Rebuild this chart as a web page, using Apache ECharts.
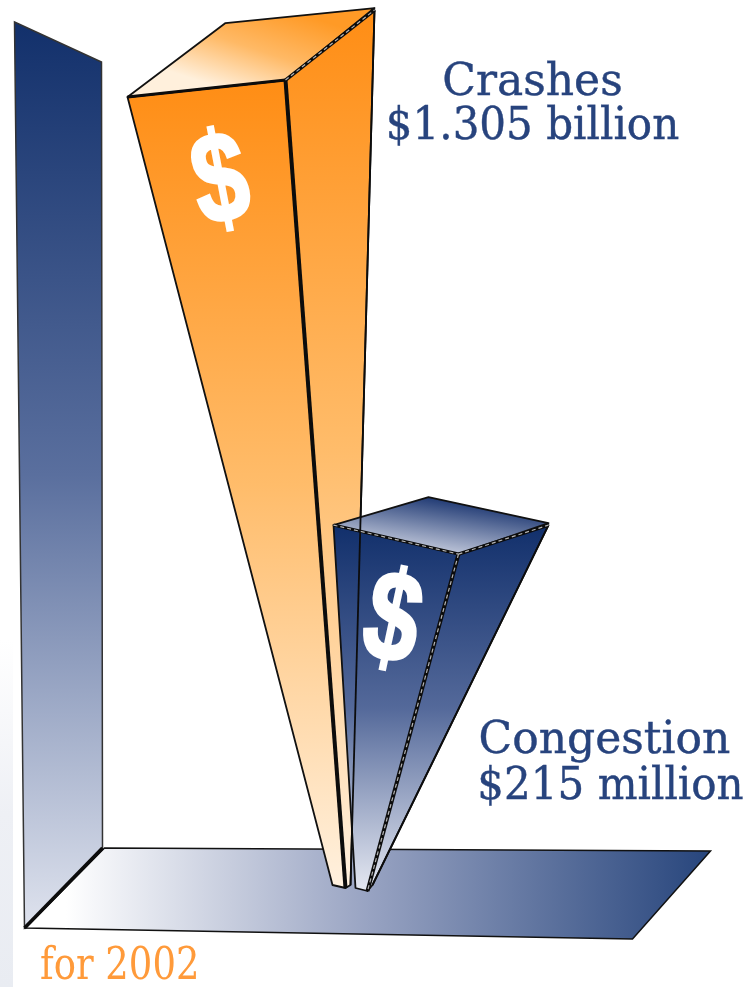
<!DOCTYPE html>
<html>
<head>
<meta charset="utf-8">
<style>html,body{margin:0;padding:0;background:#fff}#c{width:749px;height:987px;filter:blur(0.6px)}</style>
<script src="https://cdn.jsdelivr.net/npm/echarts@6/dist/echarts.min.js"></script>
</head>
<body>
<div id="c"></div>
<script>
// Chart values ($ million, 2002)
const categories = ['Crashes', 'Congestion'];
const costMillions = [1305, 215];
const valueLabels = ['$1.305 billion', '$215 million'];
const footnote = 'for 2002';

const NAVY = '#27437d', ORANGE = '#ff9a3a', SERIF = '"DejaVu Serif", serif';
function grad(x, y, x2, y2, stops) {
  return { type: 'linear', x, y, x2, y2, colorStops: stops.map((c) => ({ offset: c[0], color: c[1] })) };
}
function poly(points, fill, z) {
  return { type: 'polygon', shape: { points }, style: { fill, stroke: '#111', lineWidth: 1.8, lineJoin: 'round' }, z2: z || 0 };
}
function edge(points, width, inner) {
  const out = [{ type: 'polyline', shape: { points }, style: { fill: null, stroke: '#0c0c0c', lineWidth: width }, z2: 5 }];
  if (inner) out.push({ type: 'polyline', shape: { points }, style: { fill: null, stroke: '#b5b5b5', lineWidth: inner, lineDash: [4, 3] }, z2: 6 });
  return out;
}
function label(x, y, text, size, fill, opt) {
  opt = opt || {};
  return { type: 'text', x, y, rotation: opt.rot || 0, scaleX: opt.sx || 1, scaleY: opt.sy || 1, z2: 8,
    style: { text, fill, fontSize: size, fontFamily: opt.font || SERIF, fontWeight: opt.weight || 'normal', align: 'center', verticalAlign: 'middle',
      stroke: fill, lineWidth: opt.bold || 0.4 } };
}

// Perspective of each bar, in pixels relative to (bar base x, bar top y) / (bar base x, base y)
const solids = [
  { fl: -213, fr: -55, frUp: -17, sideX: 34, sideUp: -87, topBackX: -115, topBackUp: -74, topRX: 34, topRUp: -89,
    baseL: -8, baseR: 5, sideBase: 10,
    faces: [[0, '#ff8d14'], [0.5, '#ffbc6a'], [1, '#fff1df']],
    topFill: grad(0.62, 0, 0.5, 1, [[0, '#ff9a26'], [0.5, '#ffb965'], [1, '#fff0dc']]),
    sign: [-119, 89, 0.19], inner: 0 },
  { fl: -32, fr: 93, frUp: 29, sideX: 183, sideUp: 0, topBackX: 63, topBackUp: -28, topRX: 183, topRUp: -2,
    baseL: -10, baseR: 2, sideBase: 7,
    faces: [[0, '#112f6b'], [0.5, '#54699a'], [1, '#e6e9f2']],
    topFill: grad(0.52, 0, 0.48, 1, [[0, '#17326e'], [1, '#c9cfe0']]),
    sign: [26, 100, -0.21], inner: 1.2 }
];

function renderBar(params, api) {
  const i = params.dataIndex, s = solids[i];
  const v = api.value(1);
  const top = api.coord([i, v]);
  const base = api.coord([i, AXIS_MIN]);
  const bx = base[0], by = base[1], ty = top[1];
  const FL = [bx + s.fl, ty], FR = [bx + s.fr, ty + s.frUp];
  const SR = [bx + s.sideX, ty + s.sideUp];
  const TB = [bx + s.topBackX, ty + s.topBackUp], TR = [bx + s.topRX, ty + s.topRUp];
  const BL = [bx + s.baseL, by - 3 + i * 3], BR = [bx + s.baseR, by + i * 3], BS = [bx + s.sideBase, by - 3];
  const faceFill = grad(0, 0, 0, 1, s.faces);
  const children = [
    poly([FR, SR, BS, BR], faceFill),
    poly([FL, FR, BR, BL], faceFill),
    poly([FL, TB, TR, FR], s.topFill, 1)
  ].concat(edge([FR, BR], 4, s.inner), edge([FL, FR], 3.2, s.inner), edge([FR, SR], 3.5, 1.2),
    edge([SR, BS], 1.8));
  children.push(label(bx + s.sign[0], ty + s.sign[1], '$', 128, '#fff',
    { font: '"Liberation Sans", sans-serif', weight: 'bold', rot: s.sign[2], sx: 0.76, bold: 3 }));
  return { type: 'group', children };
}

function renderFrame(params, api) {
  const o = api.coord([0, AXIS_MIN]);
  const X = o[0], Y = o[1];
  const p = (dx, dy) => [X + dx, Y + dy];
  const wallBL = p(-316, 40), wallBR = p(-238, -40);
  return { type: 'group', children: [
    { type: 'polygon', shape: { points: [p(-326, -866), p(-239, -826), wallBR, wallBL] },
      style: { fill: grad(0, 0, 0, 1, [[0, '#12306b'], [0.5, '#5a6f9e'], [1, '#dfe3ee']]), stroke: '#333', lineWidth: 1.5 } },
    { type: 'polygon', shape: { points: [p(-236, -40), p(370, -37), p(292, 51), p(-315, 40)] },
      style: { fill: grad(0, 0, 1, 0, [[0.06, '#ffffff'], [0.5, '#98a3c2'], [1, '#27457c']]), stroke: '#111', lineWidth: 1.5 } }
  ].concat(edge([wallBR, wallBL], 3.5)) };
}

function renderText(params, api) {
  const i = params.dataIndex;
  const top = api.coord([i, api.value(1)]);
  const base = api.coord([i, AXIS_MIN]);
  const bx = base[0], ty = top[1];
  const pos = i === 0 ? [[192, -13], [192, 31]] : [[239, 216], [245, 262]];
  return { type: 'group', children: [
    label(bx + pos[0][0], ty + pos[0][1], categories[i], 44, NAVY),
    label(bx + pos[1][0], ty + pos[1][1], valueLabels[i], 44, NAVY, { sx: 0.955 })
  ] };
}

const AXIS_MIN = 46.6, AXIS_MAX = 1964;
const chart = echarts.init(document.getElementById('c'), null, { renderer: 'canvas' });
chart.setOption({
  animation: false,
  backgroundColor: '#ffffff',
  grid: { left: 328, width: 50, top: 0, bottom: 99 },
  xAxis: { type: 'category', data: categories, show: false },
  yAxis: { type: 'log', min: AXIS_MIN, max: AXIS_MAX, show: false },
  graphic: [
    { type: 'rect', shape: { x: 0, y: 640, width: 13, height: 347 }, z: -1, silent: true,
      style: { fill: grad(0, 0, 0, 1, [[0, '#ffffff'], [0.5, '#eef0f5'], [1, '#e9ecf2']]) } },
    { type: 'text', x: 40, y: 968, scaleX: 0.84, z: 5,
      style: { text: footnote, fill: ORANGE, fontSize: 44, fontFamily: SERIF, align: 'left', verticalAlign: 'middle' } }
  ],
  series: [
    { type: 'custom', name: 'frame', data: [[0, AXIS_MIN]], renderItem: renderFrame, z: 1, clip: false, silent: true },
    { type: 'custom', name: 'Cost', data: costMillions.map((v, i) => [i, v]), renderItem: renderBar, encode: { x: 0, y: 1 }, z: 2, clip: false },
    { type: 'custom', name: 'labels', data: costMillions.map((v, i) => [i, v]), renderItem: renderText, encode: { x: 0, y: 1 }, z: 3, clip: false, silent: true }
  ]
});
</script>
</body>
</html>
